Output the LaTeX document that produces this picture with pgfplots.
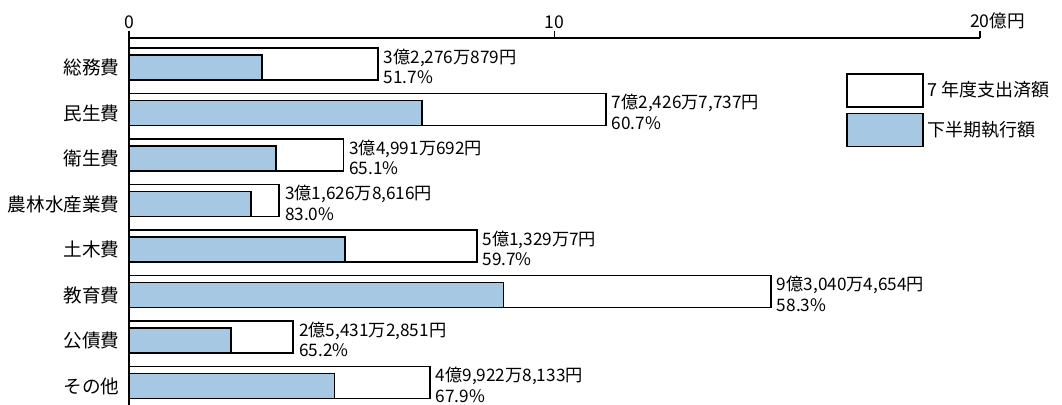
\documentclass[border=0pt]{standalone}
\usepackage{fontspec}
\setmainfont{Noto Sans CJK JP}
\usepackage{pgfplots}
\pgfplotsset{compat=1.18}
\usepackage{pgfplotstable}
\definecolor{barblue}{RGB}{166,200,226}
\pgfplotsset{boxlegend/.style={legend image code/.code={\draw[##1] (0pt,-8.25pt) rectangle (38pt,8.25pt);}}}

\pgfplotstableread{
y white blue amount pct
7 5.85 3.12 3億2,276万879円 51.7
6 11.21 6.88 7億2,426万7,737円 60.7
5 5.04 3.45 3億4,991万692円 65.1
4 3.53 2.86 3億1,626万8,616円 83.0
3 8.17 5.08 5億1,329万7円 59.7
2 15.09 8.80 9億3,040万4,654円 58.3
1 3.86 2.39 2億5,431万2,851円 65.2
0 7.07 4.83 4億9,922万8,133円 67.9
}\data

\begin{document}
\begin{tikzpicture}
\begin{axis}[
  at={(64.5pt,0pt)}, anchor=south west,
  scale only axis, width=425.5pt, height=183.5pt,
  xmin=0, xmax=20, ymin=-0.418, ymax=7.648,
  axis x line*=top, axis y line*=left,
  axis line style={-, line width=0.9pt},
  xtick={0,10,20}, xticklabels={0,10,20\rlap{億円}},
  xtick align=outside, major tick length=3.5pt,
  xtick style={line width=0.9pt, black},
  ytick={0,...,7},
  yticklabels={その他,公債費,教育費,土木費,農林水産業費,衛生費,民生費,総務費},
  ytick style={draw=none}, ytick align=inside,
  yticklabel style={font=\fontsize{9.3}{11}\selectfont, anchor=east, inner sep=0pt, xshift=-4.5pt},
  xticklabel style={font=\fontsize{8.8}{10}\selectfont, inner sep=0pt, yshift=0.8pt},
  clip=false,
  legend style={at={(0.8425,0.9046)}, anchor=north west, draw=none, fill=none,
    inner sep=0pt, row sep=2.2pt, column sep=1.5pt,
    nodes={inner sep=0pt, anchor=west}, font=\fontsize{9}{11}\selectfont},
  legend cell align=left,
]
\addplot[xbar, bar width=0.703, bar shift=0.077, fill=white, draw=black, line width=0.9pt,
  point meta=explicit symbolic,
  visualization depends on={\thisrow{pct}\as\pct},
  nodes near coords={\pgfplotspointmeta\\\pgfmathprintnumber[fixed,fixed zerofill,precision=1,assume math mode=true]{\pct}\%},
  every node near coord/.append style={anchor=west, align=left, inner sep=0pt,
     xshift=2.5pt, yshift=0.6pt, font=\fontsize{8.6}{10.3}\selectfont, black},
  boxlegend
] table[x=white, y=y, meta=amount] {\data};
\addplot[xbar, bar width=0.549, bar shift=0, fill=barblue, draw=black, line width=0.9pt,
  boxlegend
] table[x=blue, y=y] {\data};
\legend{7 年度支出済額, 下半期執行額}
\end{axis}
\pgfresetboundingbox
\useasboundingbox (0,0) rectangle (531pt,202.5pt);
\end{tikzpicture}
\end{document}
